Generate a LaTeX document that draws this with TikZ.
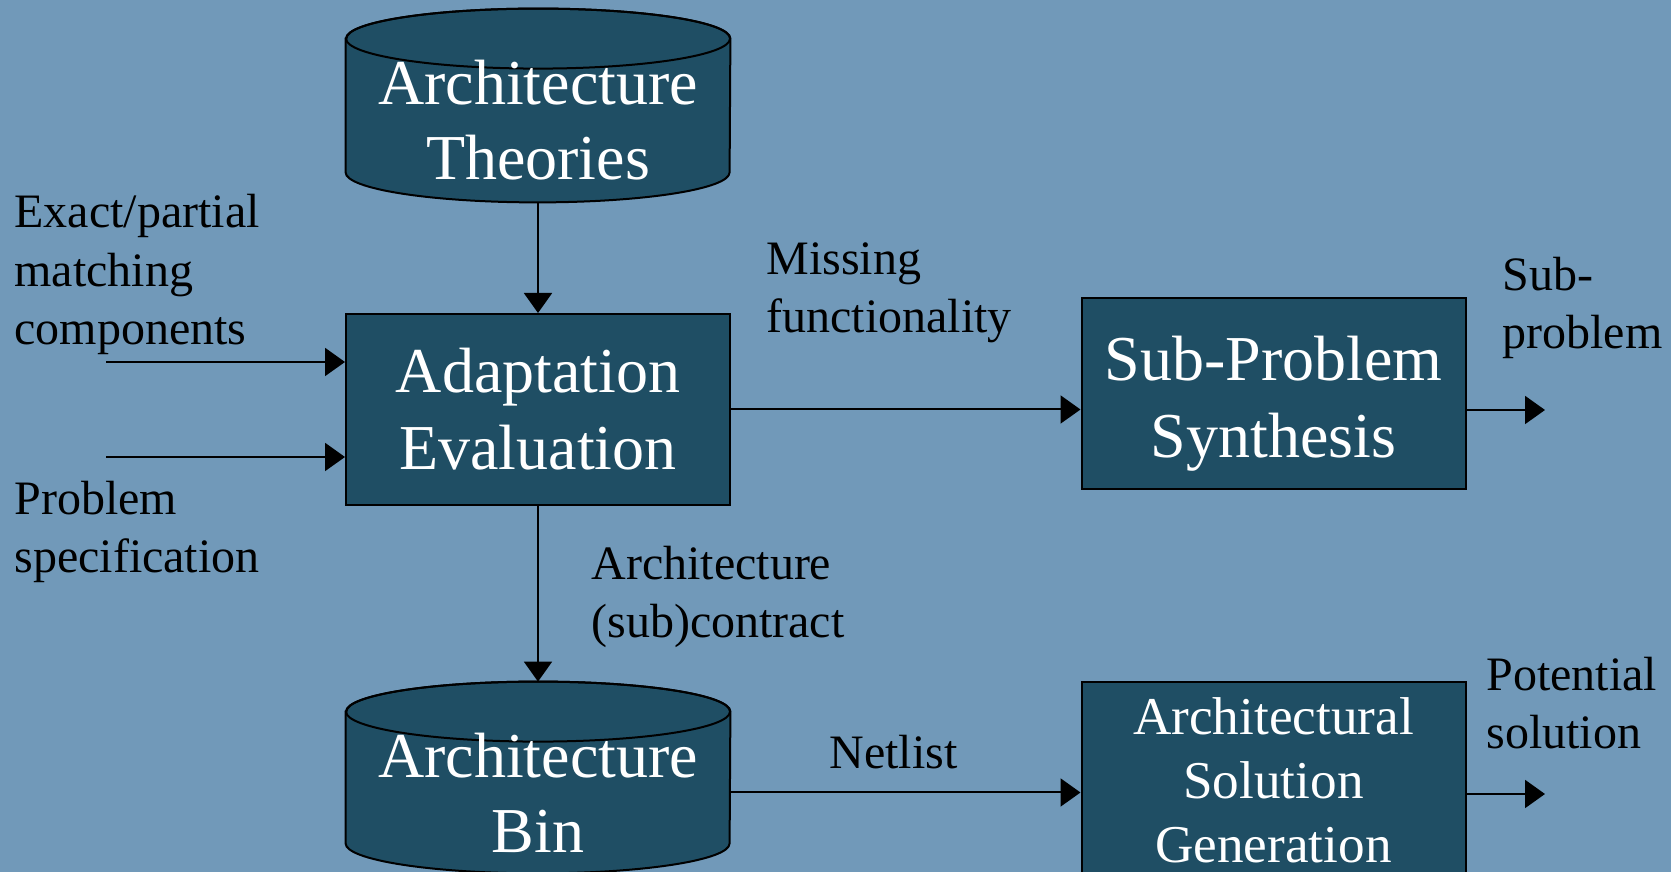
\documentclass[tikz,border=0pt]{standalone}
\usepackage{fontspec}
\setmainfont{Liberation Serif}
\usetikzlibrary{arrows.meta,calc,backgrounds}
\definecolor{pagebg}{RGB}{113,153,185}
\definecolor{boxfill}{RGB}{31,78,100}

\tikzset{
  flowbox/.style={draw=black, line width=1pt, fill=boxfill, text=white,
    align=center, inner sep=0pt, font=\fontsize{32}{38.5}\selectfont},
  storetext/.style={text=white, align=center, inner sep=0pt,
    font=\fontsize{32}{37.5}\selectfont},
  cylbody/.style={fill=boxfill, draw=black, line width=1pt},
  lbl/.style={text=black, align=left, inner sep=0pt, anchor=base west,
    font=\fontsize{24}{29.25}\selectfont},
  flow/.style={draw=black, line width=1pt, -{Triangle[length=10pt,width=14pt]}},
}

\begin{document}
\begin{tikzpicture}[x=0.5pt, y=0.5pt]
  \useasboundingbox (0,0) rectangle (1671,872);
  \begin{scope}[on background layer]
    \fill[pagebg] (0,0) rectangle (1671,872);
  \end{scope}

  % stores (text only; cylinder outlines are drawn behind them below)
  \node[storetext, minimum width=192pt, minimum height=81.5pt] (theo) at (538,751.5)
    {Architecture\\Theories};
  \node[storetext, minimum width=192pt, minimum height=80.5pt] (bin) at (538,79.5)
    {Architecture\\Bin};

  % process boxes
  \node[flowbox, minimum width=192pt, minimum height=95.5pt] (adapt) at (538,462.5)
    {Adaptation\\Evaluation};
  \node[flowbox, minimum width=192pt, minimum height=95.5pt] (sub) at (1273.5,478.5)
    {\rule{0pt}{32pt}Sub-Problem\\Synthesis};
  \node[flowbox, minimum width=192pt, minimum height=98pt,
        font=\fontsize{26.6}{32}\selectfont] (asg) at (1273.5,92)
    {Architectural\\Solution\\Generation};

  % cylinder bodies behind the store texts
  \begin{scope}[on background layer]
    \foreach \s in {theo,bin}{
      \filldraw[cylbody] (\s.north west) -- ($(\s.south west)+(0,30)$)
        arc[start angle=180, end angle=360, x radius=192, y radius=30]
        -- (\s.north east)
        arc[start angle=0, end angle=180, x radius=192, y radius=30] -- cycle;
      \draw[line width=1pt] (\s.north) ellipse[x radius=192, y radius=30];
    }
  \end{scope}

  % free ends of the connectors
  \coordinate (in1) at (106,510);
  \coordinate (in2) at (106,415);
  \coordinate (subout) at (1545,462);
  \coordinate (asgout) at (1545,78);

  % connectors
  \draw[flow] (theo.south) -- (adapt.north);
  \draw[flow] (adapt.south) -- ($(bin.north)+(0,30)$);
  \draw[flow] (in1) -- (in1 -| adapt.west);
  \draw[flow] (in2) -- (in2 -| adapt.west);
  \draw[flow] (adapt.east) -- (adapt.east -| sub.west);
  \draw[flow] (sub.east |- subout) -- (subout);
  \draw[flow] (bin.east) -- (bin.east -| asg.west);
  \draw[flow] (asg.east |- asgout) -- (asgout);

  % labels (anchored on the baseline of their last line)
  \node[lbl] (exact) at (14,527) {Exact/partial\\matching\\components};
  \node[lbl] (probspec) at (14,299) {Problem\\specification};
  \node[lbl] (missing) at (766,539) {Missing\\functionality};
  \node[lbl] (subprob) at (1502,523) {Sub-\\problem};
  \node[lbl] (contract) at (591,234) {Architecture\\(sub)contract};
  \node[lbl] (netlist) at (829,103) {Netlist};
  \node[lbl] (potential) at (1486,123) {Potential\\solution};
\end{tikzpicture}
\end{document}
